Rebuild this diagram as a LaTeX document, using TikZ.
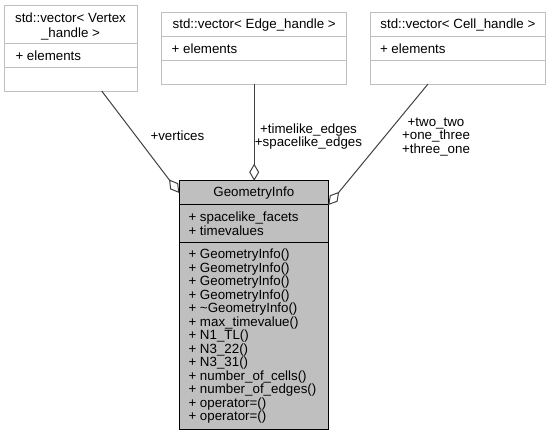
\documentclass[tikz,border=0pt]{standalone}
\usepackage{fontspec}
\setmainfont{Liberation Sans}
\usetikzlibrary{arrows.meta,fit,calc}
\definecolor{boxgray}{HTML}{BFBFBF}
\definecolor{edgegray}{HTML}{404040}
\begin{document}
\begin{tikzpicture}[x=0.75pt,y=-0.75pt,
  font=\fontsize{10}{10.125}\selectfont,
  uml/.style={inner sep=0pt, outer sep=0pt, line width=0.75pt},
  topbox/.style={uml, draw=boxgray, fill=white},
  mainbox/.style={uml, draw=black, fill=boxgray},
  sepgray/.style={draw=boxgray, line width=0.75pt},
  sepblack/.style={draw=black, line width=0.75pt},
  txt/.style={inner sep=0pt, outer sep=0pt},
  conn/.style={draw=edgegray, line width=0.75pt, arrows={Diamond[open,length=12.75pt,width=7.5pt]-}}]
\useasboundingbox (0,0) rectangle (552,432);

% top boxes
\node[topbox, fit={(4,5) (137,91)}] (vtx) {};
\draw[sepgray] (vtx.west |- 0,43) -- (vtx.east |- 0,43);
\draw[sepgray] (vtx.west |- 0,67) -- (vtx.east |- 0,67);
\node[txt, align=center, font=\fontsize{10}{11.25}\selectfont] (vtxt) at (70.5,26.2) {std::vector< Vertex\\\_handle >};
\node[txt, anchor=west] (vtxe) at (15.5,55.5) {+ elements};

\node[topbox, fit={(161.7,12.7) (346.7,84)}] (edg) {};
\draw[sepgray] (edg.west |- 0,36.7) -- (edg.east |- 0,36.7);
\draw[sepgray] (edg.west |- 0,60.7) -- (edg.east |- 0,60.7);
\node[txt] (edgt) at (254.2,25.2) {std::vector< Edge\_handle >};
\node[txt, anchor=west] (edge) at (171.7,49) {+ elements};

\node[topbox, fit={(370,12.7) (545.7,84)}] (cel) {};
\draw[sepgray] (cel.west |- 0,36.7) -- (cel.east |- 0,36.7);
\draw[sepgray] (cel.west |- 0,60.7) -- (cel.east |- 0,60.7);
\node[txt] (celt) at (457.9,25.2) {std::vector< Cell\_handle >};
\node[txt, anchor=west] (cele) at (380,49) {+ elements};

% main box
\node[mainbox, fit={(179.3,180.7) (328.3,429.3)}] (gi) {};
\draw[sepblack] (gi.west |- 0,204.3) -- (gi.east |- 0,204.3);
\draw[sepblack] (gi.west |- 0,242.3) -- (gi.east |- 0,242.3);
\node[txt] (git) at (253.8,193) {GeometryInfo};
\node[txt, anchor=west, align=left] (giattr) at (188.5,223.5) {+ spacelike\_facets\\+ timevalues};
\node[txt, anchor=west, align=left, font=\fontsize{10}{10.125}\selectfont] (gimeth) at (188.5,336.3) {%
+ GeometryInfo()\\
+ GeometryInfo()\\
+ GeometryInfo()\\
+ GeometryInfo()\\
+ \textasciitilde GeometryInfo()\\
+ max\_timevalue()\\
+ N1\_TL()\\
+ N3\_22()\\
+ N3\_31()\\
+ number\_of\_cells()\\
+ number\_of\_edges()\\
+ operator=()\\
+ operator=()};

% connectors
\draw[conn] ($(gi.north west)+(0,12.3)$) -- ($(vtx.south west)+(97.7,0)$);
\draw[conn] (edg.south |- gi.north) -- (edg.south);
\draw[conn] ($(gi.north east)+(0,24.3)$) -- ($(cel.south west)+(58,0)$);

% labels
\node[txt] (lv) at (177.4,135.5) {+vertices};
\node[txt, align=center, font=\fontsize{10}{9.6}\selectfont] (le) at (308.5,136.8) {+timelike\_edges\\+spacelike\_edges};
\node[txt, align=center, font=\fontsize{10}{10.1}\selectfont] (lc) at (436,136.8) {+two\_two\\+one\_three\\+three\_one};
\end{tikzpicture}
\end{document}
